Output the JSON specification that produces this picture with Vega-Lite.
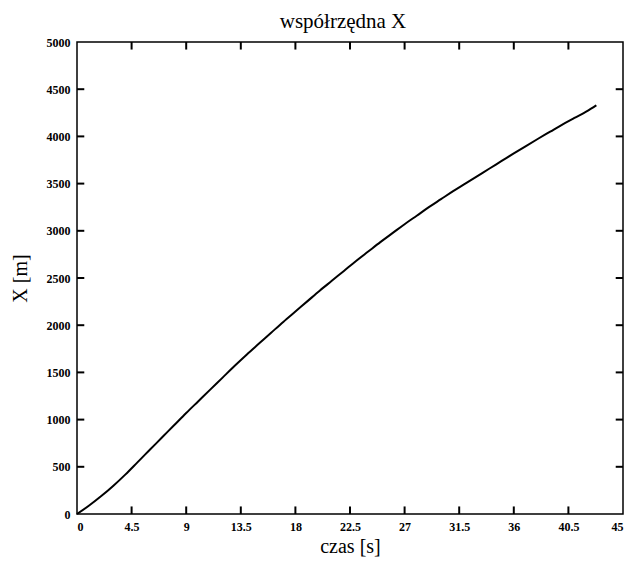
{
  "$schema": "https://vega.github.io/schema/vega-lite/v6.json",
  "width": 546,
  "height": 472,
  "autosize": {"type": "none"},
  "padding": {"left": 77, "top": 42, "right": 10, "bottom": 51},
  "background": "white",
  "title": {"text": "współrzędna X", "font": "Liberation Serif", "fontSize": 21, "fontWeight": "normal", "color": "black", "offset": 4, "dx": -7},
  "datasets": {
    "curve": [
      {"t": 0, "X": 0}, {"t": 1, "X": 90}, {"t": 2, "X": 190}, {"t": 3, "X": 300},
      {"t": 4, "X": 420}, {"t": 5, "X": 550}, {"t": 6, "X": 680}, {"t": 7, "X": 810},
      {"t": 8, "X": 940}, {"t": 9, "X": 1070}, {"t": 10, "X": 1195}, {"t": 11, "X": 1320},
      {"t": 12, "X": 1445}, {"t": 13, "X": 1570}, {"t": 14, "X": 1690}, {"t": 15, "X": 1805},
      {"t": 16, "X": 1920}, {"t": 17, "X": 2035}, {"t": 18, "X": 2145}, {"t": 19, "X": 2255},
      {"t": 20, "X": 2365}, {"t": 21, "X": 2470}, {"t": 22, "X": 2575}, {"t": 23, "X": 2680},
      {"t": 24, "X": 2780}, {"t": 25, "X": 2880}, {"t": 26, "X": 2975}, {"t": 27, "X": 3070},
      {"t": 28, "X": 3160}, {"t": 29, "X": 3250}, {"t": 30, "X": 3335}, {"t": 31, "X": 3420},
      {"t": 32, "X": 3500}, {"t": 33, "X": 3580}, {"t": 34, "X": 3660}, {"t": 35, "X": 3740},
      {"t": 36, "X": 3820}, {"t": 37, "X": 3898}, {"t": 38, "X": 3975}, {"t": 39, "X": 4050},
      {"t": 40, "X": 4125}, {"t": 41, "X": 4195}, {"t": 42, "X": 4265}, {"t": 42.8, "X": 4330}
    ],
    "xticks": [
      {"v": 4.5}, {"v": 9}, {"v": 13.5}, {"v": 18}, {"v": 22.5}, {"v": 27}, {"v": 31.5}, {"v": 36}, {"v": 40.5}
    ],
    "yticks": [
      {"v": 500}, {"v": 1000}, {"v": 1500}, {"v": 2000}, {"v": 2500}, {"v": 3000}, {"v": 3500}, {"v": 4000}, {"v": 4500}
    ]
  },
  "layer": [
    {
      "data": {"name": "curve"},
      "mark": {"type": "line", "color": "black", "strokeWidth": 2, "interpolate": "monotone"},
      "encoding": {
        "x": {"field": "t", "type": "quantitative", "scale": {"domain": [0, 45], "nice": false, "zero": false},
          "axis": {"orient": "bottom", "values": [0, 4.5, 9, 13.5, 18, 22.5, 27, 31.5, 36, 40.5, 45], "format": ".1~f", "title": "czas [s]", "labelPadding": 7, "titlePadding": 4}},
        "y": {"field": "X", "type": "quantitative", "scale": {"domain": [0, 5000], "nice": false},
          "axis": {"orient": "left", "values": [0, 500, 1000, 1500, 2000, 2500, 3000, 3500, 4000, 4500, 5000], "format": "d", "title": "X [m]", "labelPadding": 7, "titlePadding": 16}}
      }
    },
    {
      "data": {"name": "xticks"},
      "mark": {"type": "rule", "color": "black", "strokeWidth": 2},
      "encoding": {
        "x": {"field": "v", "type": "quantitative"},
        "y": {"datum": 0, "type": "quantitative"},
        "y2": {"datum": 80}
      }
    },
    {
      "data": {"name": "xticks"},
      "mark": {"type": "rule", "color": "black", "strokeWidth": 2},
      "encoding": {
        "x": {"field": "v", "type": "quantitative"},
        "y": {"datum": 5000, "type": "quantitative"},
        "y2": {"datum": 4920}
      }
    },
    {
      "data": {"name": "yticks"},
      "mark": {"type": "rule", "color": "black", "strokeWidth": 2},
      "encoding": {
        "y": {"field": "v", "type": "quantitative"},
        "x": {"datum": 0, "type": "quantitative"},
        "x2": {"datum": 0.6}
      }
    },
    {
      "data": {"name": "yticks"},
      "mark": {"type": "rule", "color": "black", "strokeWidth": 2},
      "encoding": {
        "y": {"field": "v", "type": "quantitative"},
        "x": {"datum": 45, "type": "quantitative"},
        "x2": {"datum": 44.4}
      }
    }
  ],
  "config": {
    "view": {"stroke": "black", "strokeWidth": 1.5},
    "axis": {
      "grid": false,
      "domain": false,
      "ticks": false,
      "tickSize": 0,
      "labelFont": "Liberation Serif",
      "labelFontWeight": "bold",
      "labelFontSize": 12,
      "labelColor": "black",
      "titleFont": "Liberation Serif",
      "titleFontSize": 20,
      "titleFontWeight": "normal",
      "titleColor": "black"
    }
  }
}
